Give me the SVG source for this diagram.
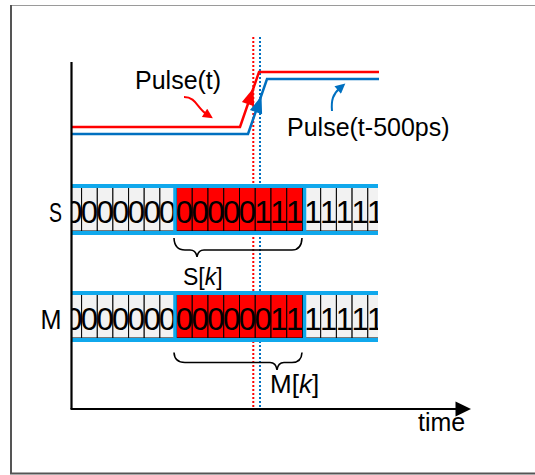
<svg xmlns="http://www.w3.org/2000/svg" width="535" height="475" viewBox="0 0 535 475">
<style>
text{font-family:"Liberation Sans",Arial,sans-serif;fill:#000}
.lbl{font-size:25px}
.dig{font-size:31px;text-anchor:middle}
.cg{fill:#f2f2f2;stroke:#000;stroke-width:1}
.cr{fill:#ff0000;stroke:#000;stroke-width:1}
.band{stroke:#10a8ec;stroke-width:4;fill:none}
.frame{stroke:#10a8ec;stroke-width:3.5;fill:none}
.brace{fill:none;stroke:#000;stroke-width:1.6}
</style>
<defs>
<clipPath id="rowclip"><rect x="72" y="170" width="306" height="190"/></clipPath>
<marker id="ahR" viewBox="0 0 10 10" refX="3" refY="5" markerWidth="11" markerHeight="10" markerUnits="userSpaceOnUse" orient="auto"><path d="M0,0 L10,5 L0,10 z" fill="#ff0000"/></marker>
<marker id="ahB" viewBox="0 0 10 10" refX="3" refY="5" markerWidth="11" markerHeight="10" markerUnits="userSpaceOnUse" orient="auto"><path d="M0,0 L10,5 L0,10 z" fill="#0070c0"/></marker>
</defs>
<rect width="535" height="475" fill="#fff"/>
<g id="border">
<line x1="10" y1="5.5" x2="535" y2="5.5" stroke="#9a9a9a" stroke-width="1.2"/>
<line x1="11" y1="5" x2="11" y2="474" stroke="#555" stroke-width="2"/>
<line x1="10" y1="473.5" x2="535" y2="473.5" stroke="#555" stroke-width="2"/>
</g>
<g id="markers-dotted">
<line x1="253.3" y1="37" x2="253.3" y2="408" stroke="#ff0000" stroke-width="2" stroke-dasharray="2,2"/>
<line x1="260" y1="37" x2="260" y2="408" stroke="#0070c0" stroke-width="2" stroke-dasharray="2,2"/>
</g>
<g id="pulse-t">
<polyline points="72,127 240,127 259,72 379,72" fill="none" stroke="#ff0000" stroke-width="2.5"/>
<polygon points="253.5,88 241.9,102 254.1,106.2" fill="#ff0000"/>
<text class="lbl" x="135" y="89">Pulse(t)</text>
</g>
<g id="pulse-t-500">
<polyline points="72,134 248,134 267,79 379,79" fill="none" stroke="#0070c0" stroke-width="2.5"/>
<polygon points="261.5,96 249.9,110 262.1,114.2" fill="#0070c0"/>
<text class="lbl" x="287" y="136">Pulse(t-500ps)</text>
</g>
<g id="connectors">
<path d="M184,97 C196,97 197,108 207,114.5" fill="none" stroke="#ff0000" stroke-width="2" marker-end="url(#ahR)"/>
<path d="M332,111 C331,100 333,94 340,88" fill="none" stroke="#0070c0" stroke-width="2" marker-end="url(#ahB)"/>
</g>
<g id="row-S">
<text x="49" y="222" font-size="28" textLength="13" lengthAdjust="spacingAndGlyphs">S</text>
<g clip-path="url(#rowclip)">
<rect class="cg" x="66" y="187" width="15.6" height="44"/>
<rect class="cg" x="81.6" y="187" width="15.7" height="44"/>
<rect class="cg" x="97.3" y="187" width="15.6" height="44"/>
<rect class="cg" x="112.9" y="187" width="15.7" height="44"/>
<rect class="cg" x="128.6" y="187" width="15.6" height="44"/>
<rect class="cg" x="144.2" y="187" width="15.7" height="44"/>
<rect class="cg" x="159.9" y="187" width="15.6" height="44"/>
<rect class="cr" x="176.5" y="187" width="15.75" height="44"/>
<rect class="cr" x="192.25" y="187" width="15.75" height="44"/>
<rect class="cr" x="208" y="187" width="15.75" height="44"/>
<rect class="cr" x="223.75" y="187" width="15.75" height="44"/>
<rect class="cr" x="239.5" y="187" width="15.75" height="44"/>
<rect class="cr" x="255.25" y="187" width="15.75" height="44"/>
<rect class="cr" x="271" y="187" width="15.75" height="44"/>
<rect class="cr" x="286.75" y="187" width="15.75" height="44"/>
<rect class="cg" x="305" y="187" width="15.7" height="44"/>
<rect class="cg" x="320.7" y="187" width="15.7" height="44"/>
<rect class="cg" x="336.4" y="187" width="15.7" height="44"/>
<rect class="cg" x="352.1" y="187" width="15.7" height="44"/>
<rect class="cg" x="367.8" y="187" width="15.7" height="44"/>
<text class="dig" y="223"><tspan x="73.8">0</tspan><tspan x="89.4">0</tspan><tspan x="105.1">0</tspan><tspan x="120.7">0</tspan><tspan x="136.4">0</tspan><tspan x="152">0</tspan><tspan x="167.7">0</tspan><tspan x="184.4">0</tspan><tspan x="200.1">0</tspan><tspan x="215.9">0</tspan><tspan x="231.6">0</tspan><tspan x="247.4">0</tspan><tspan x="263.1">1</tspan><tspan x="278.9">1</tspan><tspan x="294.6">1</tspan><tspan x="312.9">1</tspan><tspan x="328.6">1</tspan><tspan x="344.3">1</tspan><tspan x="360">1</tspan><tspan x="375.7">1</tspan></text>
<line class="band" x1="72" y1="186" x2="378" y2="186"/>
<line class="band" x1="72" y1="233" x2="378" y2="233"/>
<rect class="frame" x="175" y="186" width="129.5" height="47"/>
</g>
</g>
<g id="row-M">
<text x="40.5" y="329" font-size="28" textLength="21" lengthAdjust="spacingAndGlyphs">M</text>
<g clip-path="url(#rowclip)">
<rect class="cg" x="66" y="294" width="15.6" height="44"/>
<rect class="cg" x="81.6" y="294" width="15.7" height="44"/>
<rect class="cg" x="97.3" y="294" width="15.6" height="44"/>
<rect class="cg" x="112.9" y="294" width="15.7" height="44"/>
<rect class="cg" x="128.6" y="294" width="15.6" height="44"/>
<rect class="cg" x="144.2" y="294" width="15.7" height="44"/>
<rect class="cg" x="159.9" y="294" width="15.6" height="44"/>
<rect class="cr" x="176.5" y="294" width="15.75" height="44"/>
<rect class="cr" x="192.25" y="294" width="15.75" height="44"/>
<rect class="cr" x="208" y="294" width="15.75" height="44"/>
<rect class="cr" x="223.75" y="294" width="15.75" height="44"/>
<rect class="cr" x="239.5" y="294" width="15.75" height="44"/>
<rect class="cr" x="255.25" y="294" width="15.75" height="44"/>
<rect class="cr" x="271" y="294" width="15.75" height="44"/>
<rect class="cr" x="286.75" y="294" width="15.75" height="44"/>
<rect class="cg" x="305" y="294" width="15.7" height="44"/>
<rect class="cg" x="320.7" y="294" width="15.7" height="44"/>
<rect class="cg" x="336.4" y="294" width="15.7" height="44"/>
<rect class="cg" x="352.1" y="294" width="15.7" height="44"/>
<rect class="cg" x="367.8" y="294" width="15.7" height="44"/>
<text class="dig" y="330"><tspan x="73.8">0</tspan><tspan x="89.4">0</tspan><tspan x="105.1">0</tspan><tspan x="120.7">0</tspan><tspan x="136.4">0</tspan><tspan x="152">0</tspan><tspan x="167.7">0</tspan><tspan x="184.4">0</tspan><tspan x="200.1">0</tspan><tspan x="215.9">0</tspan><tspan x="231.6">0</tspan><tspan x="247.4">0</tspan><tspan x="263.1">0</tspan><tspan x="278.9">1</tspan><tspan x="294.6">1</tspan><tspan x="312.9">1</tspan><tspan x="328.6">1</tspan><tspan x="344.3">1</tspan><tspan x="360">1</tspan><tspan x="375.7">1</tspan></text>
<line class="band" x1="72" y1="293" x2="378" y2="293"/>
<line class="band" x1="72" y1="340" x2="378" y2="340"/>
<rect class="frame" x="175" y="293" width="129.5" height="47"/>
</g>
</g>
<g id="brace-S">
<path class="brace" d="M174,238 Q174.5,250 185,250 L190,250 Q196,250 197,257 Q198,250 204,250 L292,250 Q301.5,250 302,238"/>
<text x="183" y="285" font-size="23">S[<tspan font-style="italic">k</tspan>]</text>
</g>
<g id="brace-M">
<path class="brace" d="M174,352.5 Q174.5,362.5 185,362.5 L270,362.5 Q276,362.5 277,370 Q278,362.5 284,362.5 L292,362.5 Q301.5,362.5 302,352.5"/>
<text x="270" y="393" font-size="26">M[<tspan font-style="italic">k</tspan>]</text>
</g>
<g id="axes">
<line x1="71.5" y1="62" x2="71.5" y2="409" stroke="#000" stroke-width="2.2"/>
<line x1="70.5" y1="409" x2="457" y2="409" stroke="#000" stroke-width="2.2"/>
<polygon points="471,409 455.5,401.5 455.5,416.5" fill="#000"/>
<text class="lbl" x="418" y="431">time</text>
</g>
</svg>
